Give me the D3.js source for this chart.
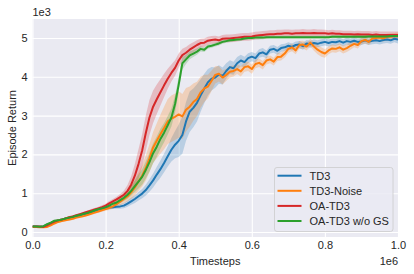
<!DOCTYPE html>
<html><head><meta charset="utf-8">
<script src="https://cdn.jsdelivr.net/npm/d3@7"></script>
<style>html,body{margin:0;padding:0;background:#fff;}svg{display:block;}</style>
</head><body>
<script>
// ---- data (timesteps in units of 1e6, returns raw) ----
const steps = d3.range(0, 101).map(i => i / 100);
const seriesNames = ["TD3", "TD3-Noise", "OA-TD3", "OA-TD3 w/o GS"];
const seriesColors = ["#1f77b4", "#ff7f0e", "#d62728", "#2ca02c"];
const xTicks = [0, 0.2, 0.4, 0.6, 0.8, 1.0];
const yTicks = [0, 1000, 2000, 3000, 4000, 5000];

const td3 = [140,140,135,145,190,230,270,290,310,340,360,380,410,430,460,480,510,540,570,590,
  610,630,640,650,660,680,730,790,850,920,990,1080,1200,1330,1480,1620,1780,1950,2120,2250,
  2350,2500,2850,3100,3200,3330,3520,3700,3860,3950,3980,4060,4020,4150,4250,4220,4350,4420,4380,4480,
  4520,4480,4600,4630,4580,4700,4720,4670,4740,4760,4800,4770,4820,4830,4790,4860,4840,4870,4850,4880,
  4900,4870,4900,4890,4920,4880,4920,4900,4930,4900,4910,4940,4910,4930,4940,4920,4950,4960,4940,4980,4960];
const td3Std = [20,20,20,20,25,25,25,25,25,25,30,30,30,30,30,30,30,35,35,35,
  40,40,45,50,60,70,80,90,100,110,120,140,160,180,200,220,240,260,300,350,
  420,480,500,520,500,480,420,380,340,300,260,240,220,200,180,170,160,150,140,130,
  120,120,110,110,100,100,100,100,100,90,90,90,90,90,90,90,90,90,90,90,
  90,90,90,90,90,90,90,90,90,90,90,90,90,90,90,90,90,90,90,90,100];
const td3Noise = [130,130,125,120,130,170,220,260,280,300,320,340,370,390,410,440,470,500,530,560,
  590,620,660,720,780,850,920,1020,1150,1300,1450,1650,1900,2180,2350,2520,2680,2850,2920,2970,
  3030,2980,3150,3230,3350,3430,3600,3700,3750,3900,4050,4080,3980,4050,4130,4150,4200,4140,4250,4270,
  4200,4330,4360,4300,4420,4450,4390,4510,4520,4600,4720,4760,4680,4820,4830,4780,4880,4780,4700,4640,
  4600,4680,4730,4720,4760,4700,4740,4800,4850,4820,4920,4950,4900,4990,5000,5010,4990,5030,5040,5050,5060];
const td3NoiseStd = [20,20,20,20,25,25,25,25,25,25,30,30,30,30,30,30,30,35,35,35,
  40,50,60,70,90,110,130,160,200,240,280,320,360,400,450,500,550,580,600,600,
  600,580,560,520,480,440,400,350,300,260,220,200,180,160,150,140,130,130,120,120,
  120,110,110,110,100,100,100,100,100,100,100,100,100,100,100,100,100,110,120,120,
  110,100,100,100,100,100,100,100,90,90,90,90,80,80,80,80,80,80,80,80,80];
const oaTd3 = [140,140,140,130,170,220,270,300,320,350,380,400,430,460,490,520,550,580,610,640,
  680,740,790,840,900,960,1060,1220,1450,1750,2100,2550,2950,3230,3420,3600,3780,3950,4100,4230,
  4420,4560,4620,4700,4760,4820,4870,4880,4930,4950,4960,4940,4980,4990,4990,5000,5010,5020,5030,5030,
  5040,5060,5070,5080,5090,5100,5100,5110,5110,5120,5120,5110,5120,5120,5130,5120,5120,5130,5120,5120,
  5120,5110,5120,5110,5110,5100,5100,5100,5090,5100,5090,5090,5090,5080,5090,5080,5080,5080,5080,5080,5080];
const oaTd3Std = [20,20,20,20,25,25,25,25,25,25,30,30,30,30,30,30,40,40,40,50,
  50,60,60,70,80,100,150,220,300,380,420,450,450,420,380,340,300,260,220,200,
  180,160,150,140,130,120,110,110,100,100,100,100,100,100,100,100,100,100,100,100,
  100,100,100,100,100,100,100,100,100,100,100,100,100,100,100,100,100,100,100,100,
  90,90,90,90,90,90,90,90,90,90,90,90,90,90,90,90,90,90,90,90,90];
const oaTd3NoGs = [140,140,135,150,200,240,290,300,320,350,370,390,420,440,470,490,520,560,590,610,
  640,680,730,760,820,880,960,1060,1180,1300,1420,1600,1800,2030,2200,2400,2560,2750,2950,3300,
  3800,4350,4450,4550,4600,4650,4720,4700,4780,4800,4830,4860,4900,4920,4940,4950,4960,4970,4990,5000,
  5000,5010,5010,5010,5020,5020,5020,5020,5020,5020,5020,5020,5020,5020,5020,5020,5020,5020,5020,5020,
  5020,5020,5030,5030,5030,5030,5030,5030,5030,5030,5030,5030,5040,5040,5040,5040,5040,5040,5050,5050,5050];
const oaTd3NoGsStd = [20,20,20,20,25,25,25,25,25,25,30,30,30,30,30,30,30,35,35,35,
  40,40,50,60,70,80,100,120,150,180,200,220,240,260,260,260,250,240,230,220,
  200,160,120,100,90,80,70,60,60,50,50,50,50,40,40,40,40,40,40,40,
  40,40,40,40,40,40,40,40,40,40,40,40,40,40,40,40,40,40,40,40,
  40,40,40,40,40,40,40,40,40,40,40,40,40,40,40,40,40,40,40,40,40];

const means = [td3, td3Noise, oaTd3, oaTd3NoGs];
const stds = [td3Std, td3NoiseStd, oaTd3Std, oaTd3NoGsStd];

// ---- layout ----
const W = 414, H = 274;
const m = {left: 32.5, right: 398, top: 19, bottom: 237};
const font = "'Liberation Sans', Arial, sans-serif";
const fs = 11;

const svg = d3.select("body").append("svg").attr("width", W).attr("height", H);

const x = d3.scaleLinear().domain([0, 1]).range([m.left, m.right]);
const y = d3.scaleLinear().domain([-129, 5490]).range([m.bottom, m.top]);

svg.append("rect").attr("x", m.left).attr("y", m.top)
  .attr("width", m.right - m.left).attr("height", m.bottom - m.top).attr("fill", "#EAEAF2");

svg.append("clipPath").attr("id", "clip").append("rect")
  .attr("x", m.left).attr("y", m.top).attr("width", m.right - m.left).attr("height", m.bottom - m.top);

// grid + ticks
const gx = svg.append("g").attr("transform", `translate(0,${m.bottom})`)
  .call(d3.axisBottom(x).tickValues(xTicks).tickSize(-(m.bottom - m.top)).tickFormat(d3.format(".1f")).tickPadding(4));
const gy = svg.append("g").attr("transform", `translate(${m.left},0)`)
  .call(d3.axisLeft(y).tickValues(yTicks).tickSize(-(m.right - m.left)).tickFormat(d => d / 1000).tickPadding(5));
[gx, gy].forEach(g => {
  g.select(".domain").remove();
  g.selectAll(".tick line").attr("stroke", "#ffffff").attr("stroke-width", 1.1);
  g.selectAll(".tick text").attr("fill", "#262626").attr("font-family", font).attr("font-size", fs);
});

const plot = svg.append("g").attr("clip-path", "url(#clip)");

means.forEach((mean, k) => {
  const area = d3.area().x((d, i) => x(steps[i]))
    .y0((d, i) => y(mean[i] - stds[k][i])).y1((d, i) => y(mean[i] + stds[k][i]));
  plot.append("path").datum(mean).attr("d", area).attr("fill", seriesColors[k]).attr("fill-opacity", 0.24);
});
means.forEach((mean, k) => {
  const line = d3.line().x((d, i) => x(steps[i])).y(d => y(d));
  plot.append("path").datum(mean).attr("d", line).attr("fill", "none")
    .attr("stroke", seriesColors[k]).attr("stroke-width", 2).attr("stroke-linejoin", "round");
});

// labels
svg.append("text").attr("x", (m.left + m.right) / 2).attr("y", 264.5).attr("text-anchor", "middle")
  .attr("font-family", font).attr("font-size", fs).attr("fill", "#262626").text("Timesteps");
svg.append("text").attr("x", m.right).attr("y", 264.5).attr("text-anchor", "end")
  .attr("font-family", font).attr("font-size", fs).attr("fill", "#262626").text("1e6");
svg.append("text").attr("x", m.left).attr("y", 16).attr("text-anchor", "start")
  .attr("font-family", font).attr("font-size", fs).attr("fill", "#262626").text("1e3");
svg.append("text").attr("transform", `translate(15.5,${(m.top + m.bottom) / 2}) rotate(-90)`)
  .attr("text-anchor", "middle").attr("font-family", font).attr("font-size", fs).attr("fill", "#262626")
  .text("Episode Return");

// legend
const lg = svg.append("g");
lg.append("rect").attr("x", 274.5).attr("y", 167.5).attr("width", 118.5).attr("height", 64).attr("rx", 2.5)
  .attr("fill", "#EAEAF2").attr("fill-opacity", 0.8).attr("stroke", "#cccccc").attr("stroke-width", 0.8);
seriesNames.forEach((name, k) => {
  const yy = 175.7 + k * 15.1;
  lg.append("line").attr("x1", 277.5).attr("x2", 301.5).attr("y1", yy).attr("y2", yy)
    .attr("stroke", seriesColors[k]).attr("stroke-width", 2);
  lg.append("text").attr("x", 309.5).attr("y", yy).attr("dy", "0.35em")
    .attr("font-family", font).attr("font-size", fs).attr("fill", "#262626").text(name);
});
</script>
</body></html>
